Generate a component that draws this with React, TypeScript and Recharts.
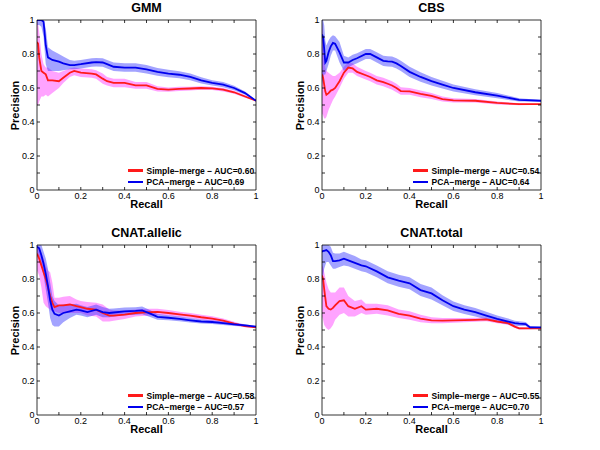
import React from "react";
import { ComposedChart, Area, Line, XAxis, YAxis } from "recharts";

// ---------- data ----------
const tickValues = [0, 0.1, 0.2, 0.3, 0.4, 0.5, 0.6, 0.7, 0.8, 0.9, 1];
const labeledTicks = [0, 0.2, 0.4, 0.6, 0.8, 1];
const seriesNames = ["Simple−merge", "PCA−merge"];

// GMM
const gmmRecall = [0, 0.005, 0.01, 0.02, 0.03, 0.04, 0.05, 0.07, 0.1, 0.12, 0.15, 0.17, 0.2, 0.25, 0.27, 0.3, 0.32, 0.35, 0.4, 0.45, 0.5, 0.55, 0.6, 0.65, 0.7, 0.75, 0.8, 0.85, 0.9, 0.95, 1.0];
const gmmSimple = [0.87, 0.86, 0.78, 0.7, 0.69, 0.68, 0.645, 0.645, 0.64, 0.66, 0.69, 0.7, 0.69, 0.685, 0.68, 0.655, 0.64, 0.63, 0.63, 0.615, 0.615, 0.595, 0.59, 0.595, 0.597, 0.6, 0.598, 0.59, 0.575, 0.55, 0.525];
const gmmSimpleLo = [0.5, 0.5, 0.52, 0.55, 0.55, 0.56, 0.55, 0.57, 0.6, 0.63, 0.665, 0.675, 0.665, 0.66, 0.655, 0.625, 0.615, 0.605, 0.605, 0.595, 0.595, 0.58, 0.578, 0.583, 0.586, 0.59, 0.588, 0.58, 0.566, 0.543, 0.523];
const gmmSimpleHi = [1.0, 0.98, 0.93, 0.8, 0.74, 0.72, 0.72, 0.7, 0.69, 0.7, 0.715, 0.72, 0.715, 0.71, 0.705, 0.685, 0.665, 0.655, 0.655, 0.635, 0.635, 0.61, 0.603, 0.607, 0.608, 0.61, 0.608, 0.6, 0.584, 0.557, 0.527];
const gmmPca = [1.0, 1.0, 1.0, 1.0, 0.99, 0.85, 0.78, 0.765, 0.755, 0.745, 0.735, 0.735, 0.74, 0.75, 0.752, 0.75, 0.74, 0.725, 0.72, 0.72, 0.71, 0.695, 0.685, 0.678, 0.665, 0.645, 0.63, 0.62, 0.6, 0.57, 0.525];
const gmmPcaLo = [0.97, 0.97, 0.97, 0.96, 0.9, 0.74, 0.7, 0.7, 0.7, 0.705, 0.71, 0.71, 0.715, 0.725, 0.727, 0.725, 0.715, 0.7, 0.695, 0.695, 0.685, 0.672, 0.663, 0.657, 0.645, 0.627, 0.614, 0.605, 0.587, 0.56, 0.522];
const gmmPcaHi = [1, 1, 1, 1, 1, 0.95, 0.84, 0.82, 0.8, 0.785, 0.765, 0.76, 0.765, 0.775, 0.777, 0.775, 0.765, 0.75, 0.745, 0.745, 0.735, 0.718, 0.707, 0.699, 0.685, 0.663, 0.646, 0.635, 0.613, 0.58, 0.528];

// CBS
const cbsRecall = [0, 0.005, 0.01, 0.015, 0.02, 0.03, 0.04, 0.05, 0.06, 0.08, 0.1, 0.12, 0.14, 0.16, 0.2, 0.22, 0.25, 0.28, 0.3, 0.32, 0.34, 0.36, 0.4, 0.45, 0.5, 0.55, 0.6, 0.7, 0.8, 0.9, 1.0];
const cbsSimple = [0.68, 0.66, 0.62, 0.58, 0.56, 0.57, 0.585, 0.59, 0.6, 0.64, 0.69, 0.72, 0.715, 0.695, 0.675, 0.665, 0.645, 0.635, 0.625, 0.615, 0.6, 0.582, 0.58, 0.565, 0.553, 0.535, 0.527, 0.525, 0.512, 0.505, 0.505];
const cbsSimpleLo = [0.45, 0.44, 0.42, 0.42, 0.43, 0.47, 0.5, 0.53, 0.55, 0.6, 0.655, 0.69, 0.69, 0.67, 0.65, 0.64, 0.62, 0.61, 0.6, 0.59, 0.575, 0.56, 0.56, 0.545, 0.535, 0.52, 0.515, 0.515, 0.503, 0.499, 0.502];
const cbsSimpleHi = [0.98, 0.9, 0.8, 0.72, 0.7, 0.69, 0.68, 0.67, 0.67, 0.69, 0.725, 0.75, 0.745, 0.725, 0.7, 0.69, 0.67, 0.66, 0.65, 0.64, 0.625, 0.605, 0.6, 0.585, 0.571, 0.55, 0.54, 0.535, 0.521, 0.511, 0.508];
const cbsPca = [0.915, 0.9, 0.83, 0.75, 0.76, 0.81, 0.845, 0.865, 0.86, 0.81, 0.75, 0.75, 0.765, 0.775, 0.8, 0.8, 0.78, 0.76, 0.757, 0.755, 0.745, 0.73, 0.695, 0.665, 0.64, 0.62, 0.6, 0.575, 0.555, 0.53, 0.525];
const cbsPcaLo = [0.62, 0.66, 0.68, 0.68, 0.7, 0.74, 0.79, 0.82, 0.82, 0.75, 0.7, 0.72, 0.735, 0.745, 0.77, 0.77, 0.75, 0.73, 0.727, 0.725, 0.715, 0.7, 0.665, 0.637, 0.615, 0.597, 0.58, 0.557, 0.54, 0.52, 0.52];
const cbsPcaHi = [1.0, 1.0, 0.97, 0.88, 0.85, 0.88, 0.9, 0.91, 0.905, 0.87, 0.79, 0.78, 0.795, 0.805, 0.83, 0.83, 0.81, 0.79, 0.787, 0.785, 0.775, 0.76, 0.725, 0.693, 0.665, 0.643, 0.62, 0.593, 0.57, 0.54, 0.53];

// CNAT.allelic
const allelicRecall = [0, 0.01, 0.02, 0.03, 0.04, 0.05, 0.06, 0.07, 0.08, 0.1, 0.12, 0.15, 0.18, 0.2, 0.23, 0.27, 0.3, 0.33, 0.35, 0.4, 0.45, 0.48, 0.52, 0.55, 0.6, 0.65, 0.7, 0.75, 0.8, 0.85, 0.9, 0.95, 1.0];
const allelicSimple = [0.95, 0.92, 0.88, 0.84, 0.8, 0.75, 0.7, 0.66, 0.635, 0.645, 0.645, 0.65, 0.64, 0.635, 0.625, 0.62, 0.6, 0.585, 0.585, 0.59, 0.6, 0.603, 0.605, 0.607, 0.6, 0.592, 0.585, 0.575, 0.567, 0.555, 0.538, 0.523, 0.515];
const allelicSimpleLo = [0.85, 0.82, 0.75, 0.66, 0.64, 0.63, 0.62, 0.61, 0.61, 0.6, 0.6, 0.6, 0.6, 0.6, 0.585, 0.58, 0.55, 0.55, 0.555, 0.565, 0.58, 0.583, 0.585, 0.59, 0.585, 0.577, 0.57, 0.56, 0.553, 0.543, 0.528, 0.516, 0.512];
const allelicSimpleHi = [1.0, 0.98, 0.95, 0.92, 0.88, 0.85, 0.84, 0.78, 0.69, 0.69, 0.695, 0.7, 0.68, 0.67, 0.665, 0.66, 0.65, 0.62, 0.615, 0.615, 0.62, 0.623, 0.625, 0.625, 0.617, 0.607, 0.6, 0.59, 0.581, 0.567, 0.548, 0.53, 0.518];
const allelicPca = [0.99, 0.98, 0.94, 0.89, 0.83, 0.76, 0.675, 0.62, 0.595, 0.585, 0.6, 0.61, 0.62, 0.615, 0.605, 0.62, 0.605, 0.6, 0.603, 0.61, 0.612, 0.615, 0.595, 0.577, 0.572, 0.565, 0.557, 0.55, 0.547, 0.54, 0.533, 0.527, 0.52];
const allelicPcaLo = [0.95, 0.93, 0.88, 0.82, 0.74, 0.66, 0.57, 0.53, 0.52, 0.52, 0.545, 0.57, 0.59, 0.585, 0.575, 0.59, 0.575, 0.575, 0.58, 0.587, 0.59, 0.592, 0.575, 0.56, 0.557, 0.551, 0.544, 0.538, 0.536, 0.53, 0.524, 0.52, 0.516];
const allelicPcaHi = [1.0, 1.0, 1.0, 0.96, 0.92, 0.86, 0.78, 0.7, 0.67, 0.645, 0.65, 0.65, 0.655, 0.645, 0.635, 0.65, 0.635, 0.625, 0.626, 0.633, 0.634, 0.638, 0.615, 0.594, 0.587, 0.579, 0.57, 0.562, 0.558, 0.55, 0.542, 0.534, 0.524];

// CNAT.total
const totalRecall = [0, 0.005, 0.01, 0.02, 0.03, 0.04, 0.05, 0.06, 0.08, 0.1, 0.12, 0.15, 0.18, 0.2, 0.25, 0.3, 0.35, 0.4, 0.45, 0.5, 0.55, 0.6, 0.65, 0.7, 0.75, 0.8, 0.85, 0.88, 0.9, 0.93, 0.95, 1.0];
const totalSimple = [0.82, 0.8, 0.74, 0.64, 0.625, 0.62, 0.63, 0.645, 0.67, 0.675, 0.64, 0.625, 0.64, 0.62, 0.625, 0.615, 0.595, 0.585, 0.567, 0.557, 0.555, 0.557, 0.558, 0.56, 0.563, 0.55, 0.54, 0.52, 0.51, 0.51, 0.51, 0.51];
const totalSimpleLo = [0.58, 0.56, 0.53, 0.51, 0.5, 0.51, 0.53, 0.56, 0.59, 0.6, 0.58, 0.58, 0.6, 0.59, 0.595, 0.585, 0.57, 0.56, 0.545, 0.54, 0.54, 0.543, 0.545, 0.548, 0.552, 0.54, 0.531, 0.512, 0.503, 0.504, 0.505, 0.507];
const totalSimpleHi = [0.88, 0.87, 0.84, 0.78, 0.74, 0.72, 0.72, 0.72, 0.75, 0.75, 0.7, 0.67, 0.68, 0.655, 0.655, 0.645, 0.62, 0.61, 0.59, 0.575, 0.57, 0.571, 0.571, 0.572, 0.574, 0.56, 0.549, 0.528, 0.517, 0.516, 0.515, 0.513];
const totalPca = [0.96, 0.965, 0.965, 0.97, 0.96, 0.94, 0.905, 0.905, 0.91, 0.92, 0.91, 0.895, 0.88, 0.875, 0.845, 0.81, 0.79, 0.775, 0.735, 0.715, 0.675, 0.64, 0.62, 0.605, 0.585, 0.565, 0.55, 0.54, 0.537, 0.535, 0.515, 0.515];
const totalPcaLo = [0.78, 0.82, 0.86, 0.9, 0.9, 0.88, 0.86, 0.86, 0.87, 0.88, 0.875, 0.86, 0.845, 0.84, 0.81, 0.775, 0.755, 0.74, 0.7, 0.68, 0.645, 0.612, 0.594, 0.58, 0.563, 0.545, 0.532, 0.525, 0.523, 0.523, 0.507, 0.512];
const totalPcaHi = [1.0, 1.0, 1.0, 1.0, 1.0, 0.99, 0.955, 0.95, 0.95, 0.96, 0.95, 0.935, 0.915, 0.91, 0.88, 0.845, 0.825, 0.81, 0.77, 0.75, 0.705, 0.668, 0.646, 0.63, 0.607, 0.585, 0.568, 0.555, 0.551, 0.547, 0.523, 0.518];

// ---------- styling ----------
const FONT = "'Liberation Sans', Arial, Helvetica, sans-serif";
const RED = "#ff1a1a";
const BLUE = "#0000ee";
const PINK = "#ff33ff";
const LAV = "#3333ff";

type PanelDef = {
  title: string;
  recall: number[];
  simple: number[];
  simpleLo: number[];
  simpleHi: number[];
  pca: number[];
  pcaLo: number[];
  pcaHi: number[];
  aucSimple: string;
  aucPca: string;
  left: number;
  top: number;
};

const panels: PanelDef[] = [
  { title: "GMM", recall: gmmRecall, simple: gmmSimple, simpleLo: gmmSimpleLo, simpleHi: gmmSimpleHi, pca: gmmPca, pcaLo: gmmPcaLo, pcaHi: gmmPcaHi, aucSimple: "0.60", aucPca: "0.69", left: 0, top: 0 },
  { title: "CBS", recall: cbsRecall, simple: cbsSimple, simpleLo: cbsSimpleLo, simpleHi: cbsSimpleHi, pca: cbsPca, pcaLo: cbsPcaLo, pcaHi: cbsPcaHi, aucSimple: "0.54", aucPca: "0.64", left: 285, top: 0 },
  { title: "CNAT.allelic", recall: allelicRecall, simple: allelicSimple, simpleLo: allelicSimpleLo, simpleHi: allelicSimpleHi, pca: allelicPca, pcaLo: allelicPcaLo, pcaHi: allelicPcaHi, aucSimple: "0.58", aucPca: "0.57", left: 0, top: 225 },
  { title: "CNAT.total", recall: totalRecall, simple: totalSimple, simpleLo: totalSimpleLo, simpleHi: totalSimpleHi, pca: totalPca, pcaLo: totalPcaLo, pcaHi: totalPcaHi, aucSimple: "0.55", aucPca: "0.70", left: 285, top: 225 },
];

const CHART_W = 300;
const CHART_H = 225;
const PLOT_L = 37;
const PLOT_T = 20;
const PLOT_W = 219;
const PLOT_H = 170;
const Y_AXIS_W = 30;
const THIN = 2; // size of the label-less top / right axes

const fmt = (v: number) => (v === 0 || v === 1 ? String(v) : v.toFixed(1));
const isLabeled = (v: number) => labeledTicks.some((t) => Math.abs(t - v) < 1e-6);
const AXIS_Y = PLOT_T + PLOT_H;
const AXIS_X = PLOT_L;

const BottomTick = (props: any) => {
  const { x, payload } = props;
  const y = AXIS_Y;
  const v = payload.value as number;
  return (
    <g>
      {v > 0 && v < 1 ? <line x1={x} y1={y} x2={x} y2={y - 3} stroke="#000" strokeWidth={0.8} /> : null}
      {isLabeled(v) ? (
        <text x={x} y={y + 8.5} textAnchor="middle" fontSize={9} fontFamily={FONT} fill="#000">
          {fmt(v)}
        </text>
      ) : null}
    </g>
  );
};
const TopTick = (props: any) => {
  const { x, payload } = props;
  const y = PLOT_T;
  const v = payload.value as number;
  if (v <= 0 || v >= 1) return <g />;
  return <line x1={x} y1={y} x2={x} y2={y + 3} stroke="#000" strokeWidth={0.8} />;
};
const LeftTick = (props: any) => {
  const { y, payload } = props;
  const x = AXIS_X;
  const v = payload.value as number;
  return (
    <g>
      {v > 0 && v < 1 ? <line x1={x} y1={y} x2={x + 3} y2={y} stroke="#000" strokeWidth={0.8} /> : null}
      {isLabeled(v) ? (
        <text x={x - 2.5} y={y + 3.2} textAnchor="end" fontSize={9} fontFamily={FONT} fill="#000">
          {fmt(v)}
        </text>
      ) : null}
    </g>
  );
};
const RightTick = (props: any) => {
  const { y, payload } = props;
  const x = PLOT_L + PLOT_W;
  const v = payload.value as number;
  if (v <= 0 || v >= 1) return <g />;
  return <line x1={x} y1={y} x2={x - 3} y2={y} stroke="#000" strokeWidth={0.8} />;
};

function Panel({ p }: { p: PanelDef }) {
  const rows = p.recall.map((r, i) => ({
    x: r,
    s: p.simple[i],
    sBand: [p.simpleLo[i], p.simpleHi[i]],
    p: p.pca[i],
    pBand: [p.pcaLo[i], p.pcaHi[i]],
  }));
  const plotLeft = p.left + PLOT_L;
  const plotTop = p.top + PLOT_T;
  const legendRows = [
    { name: seriesNames[0], auc: p.aucSimple, color: RED, w: 2.5 },
    { name: seriesNames[1], auc: p.aucPca, color: BLUE, w: 1.5 },
  ];
  const axisCommon = {
    type: "number" as const,
    domain: [0, 1] as [number, number],
    ticks: tickValues,
    allowDataOverflow: true,
    tickSize: 0,
    tickMargin: 0,
    tickLine: false,
    axisLine: { stroke: "#000", strokeWidth: 0.8 },
    interval: 0 as const,
  };
  return (
    <>
      <div style={{ position: "absolute", left: p.left, top: p.top, width: CHART_W, height: CHART_H }}>
        <ComposedChart
          width={CHART_W}
          height={CHART_H}
          data={rows}
          margin={{ top: PLOT_T - THIN, left: PLOT_L - Y_AXIS_W, right: CHART_W - PLOT_L - PLOT_W - THIN, bottom: 0 }}
        >
          <XAxis xAxisId="b" dataKey="x" {...axisCommon} height={CHART_H - PLOT_T - PLOT_H} tick={BottomTick} />
          <XAxis xAxisId="t" dataKey="x" orientation="top" {...axisCommon} height={THIN} tick={TopTick} />
          <YAxis yAxisId="l" {...axisCommon} width={Y_AXIS_W} tick={LeftTick} />
          <YAxis yAxisId="r" orientation="right" {...axisCommon} width={THIN} tick={RightTick} />
          <Area xAxisId="t" yAxisId="l" dataKey="sBand" type="linear" stroke="none" fill={PINK} fillOpacity={0.45} isAnimationActive={false} activeDot={false} />
          <Area xAxisId="b" yAxisId="r" dataKey="pBand" type="linear" stroke="none" fill={LAV} fillOpacity={0.45} isAnimationActive={false} activeDot={false} />
          <Line xAxisId="b" yAxisId="l" dataKey="s" type="linear" stroke={RED} strokeWidth={1.8} dot={false} isAnimationActive={false} />
          <Line xAxisId="b" yAxisId="l" dataKey="p" type="linear" stroke={BLUE} strokeWidth={1.8} dot={false} isAnimationActive={false} />
        </ComposedChart>
      </div>
      <div
        style={{
          position: "absolute",
          left: plotLeft,
          top: p.top + 1,
          width: PLOT_W,
          textAlign: "center",
          fontFamily: FONT,
          fontWeight: "bold",
          fontSize: 12.5,
          lineHeight: "14px",
          whiteSpace: "nowrap",
        }}
      >
        {p.title}
      </div>
      <div
        style={{
          position: "absolute",
          left: plotLeft,
          top: p.top + 198,
          width: PLOT_W,
          textAlign: "center",
          fontFamily: FONT,
          fontWeight: "bold",
          fontSize: 11,
          lineHeight: "13px",
        }}
      >
        Recall
      </div>
      <div
        style={{
          position: "absolute",
          left: p.left + 15 - 40,
          top: plotTop + PLOT_H / 2 - 6.5,
          width: 80,
          textAlign: "center",
          fontFamily: FONT,
          fontWeight: "bold",
          fontSize: 11,
          lineHeight: "13px",
          transform: "rotate(-90deg)",
        }}
      >
        Precision
      </div>
      {legendRows.map((r, i) => (
        <div
          key={r.name}
          style={{
            position: "absolute",
            left: plotLeft + 91,
            top: plotTop + 150.5 + i * 11.7 - 6,
            height: 12,
            display: "flex",
            alignItems: "center",
            whiteSpace: "nowrap",
            fontFamily: FONT,
            fontWeight: "bold",
            fontSize: 8.5,
          }}
        >
          <span style={{ display: "inline-block", width: 15, height: r.w, background: r.color, marginRight: 3.5 }} />
          <span>{`${r.name} − AUC=${r.auc}`}</span>
        </div>
      ))}
    </>
  );
}

export default function App() {
  return (
    <div style={{ position: "absolute", left: 0, top: 0, width: 600, height: 450, background: "#fff", overflow: "hidden" }}>
      {panels.map((p) => (
        <Panel key={p.title} p={p} />
      ))}
    </div>
  );
}
